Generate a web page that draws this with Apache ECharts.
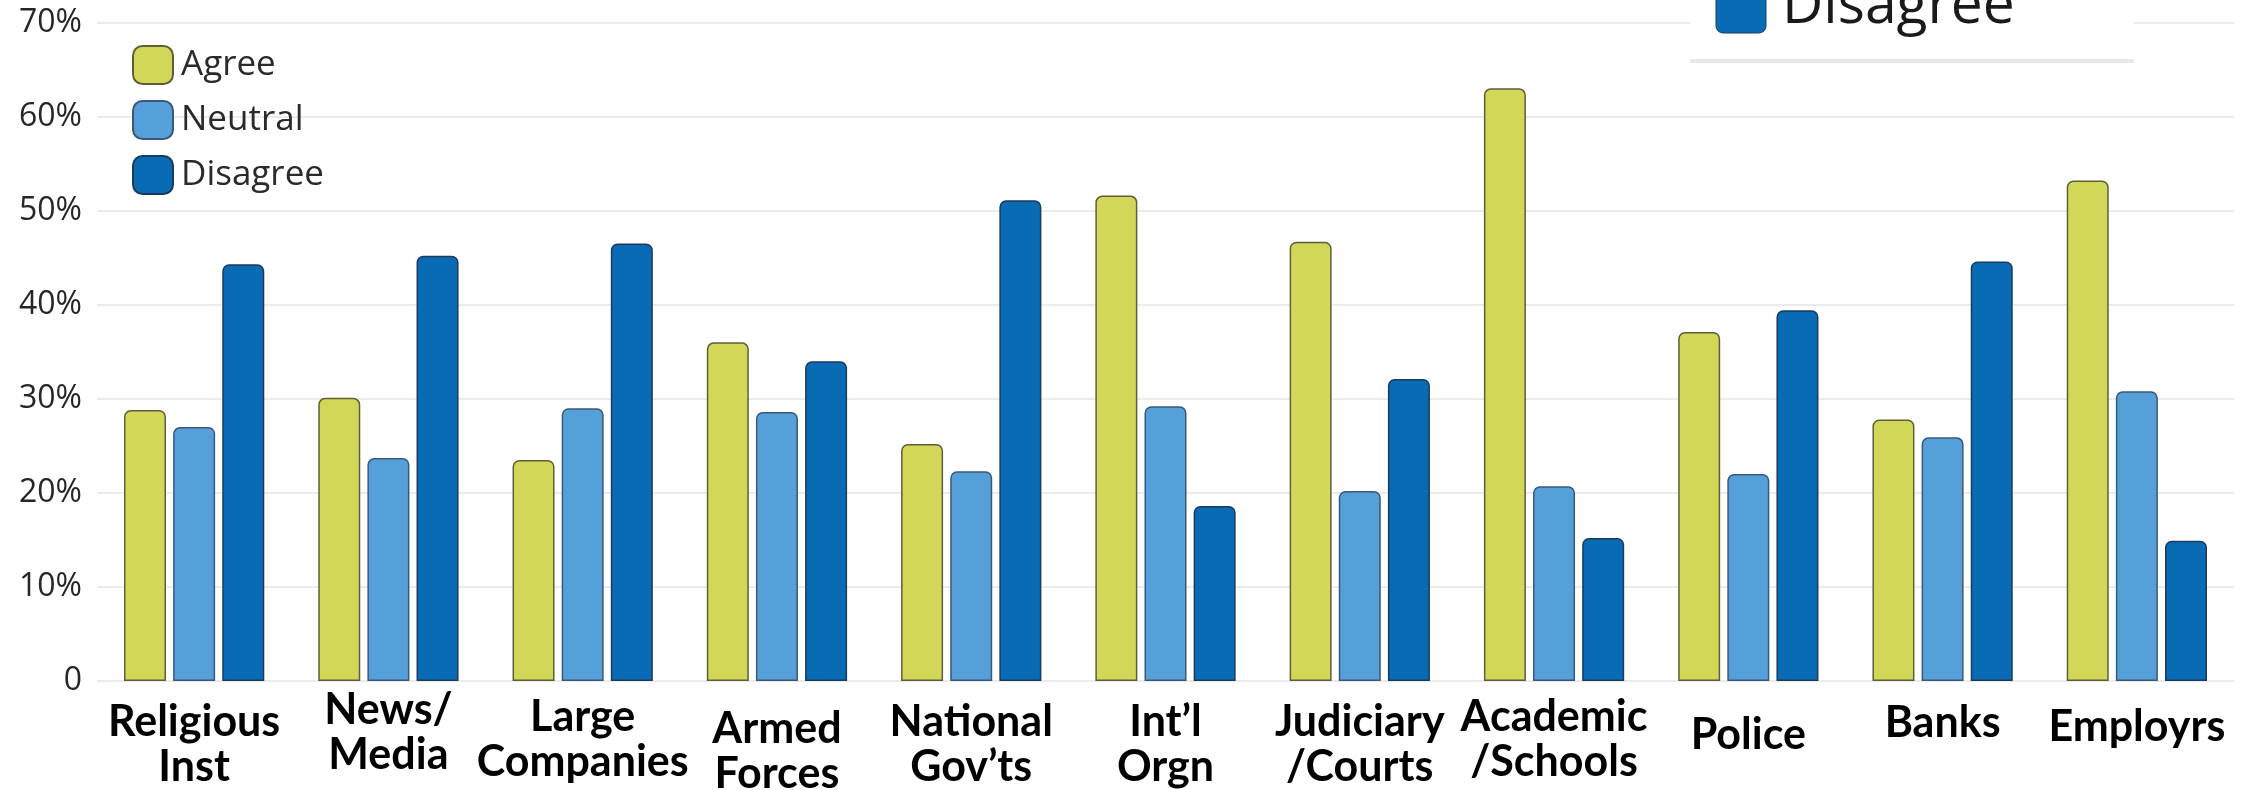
<!DOCTYPE html>
<html>
<head>
<meta charset="utf-8">
<script src="https://cdn.jsdelivr.net/npm/echarts@6/dist/echarts.min.js"></script>
<style>
html,body{margin:0;padding:0;background:#fff;}
#chart{width:2261px;height:790px;}
</style>
</head>
<body>
<div id="chart"></div>
<script>
const categories = ['Religious\nInst','News/\nMedia','Large\nCompanies','Armed\nForces','National\nGov\u2019ts','Int\u2019l\nOrgn','Judiciary\n/Courts','Academic\n/Schools','Police','Banks','Employrs'];
const agree    = [28.8, 30.1, 23.5, 36.0, 25.2, 51.6, 46.7, 63.0, 37.1, 27.8, 53.2];
const neutral  = [27.0, 23.7, 29.0, 28.6, 22.3, 29.2, 20.2, 20.7, 22.0, 25.9, 30.8];
const disagree = [44.3, 45.2, 46.5, 34.0, 51.1, 18.6, 32.1, 15.2, 39.4, 44.6, 14.9];
const seriesNames = ['Agree','Neutral','Disagree'];
const yTicks = [0,10,20,30,40,50,60,70];

// vertical nudges of the hand-placed label boxes (spacer line height; below = shifts text up)
const labelSpacerBelow = {'News/\nMedia':24, 'Large\nCompanies':10, 'Academic\n/Schools':10, 'Police':20, 'Banks':44, 'Employrs':36};
const labelSpacerAbove = {'Armed\nForces':14};

const colors = ['#D3D758','#56A0D9','#0A6BB5'];
const borders = ['#5e5e3c','#3a5878','#1a3a5e'];

const rich = {t:{fontFamily:'Lato, Roboto, sans-serif', fontWeight:'bold', fontSize:43, lineHeight:45, color:'#000'}};
[10,14,20,24,36,44].forEach(h => { rich['sp'+h] = {fontSize:1, lineHeight:h, height:h}; });

const chart = echarts.init(document.getElementById('chart'), null, {renderer:'canvas'});
const mk = (name, data, i) => ({
  name, type:'bar', data,
  barWidth: 42, barGap: '17%',
  itemStyle:{color:colors[i], borderColor:borders[i], borderWidth:1.5, borderRadius:[6,6,0,0]}
});
chart.setOption({
  animation:false,
  backgroundColor:'#ffffff',
  grid:{left:97, right:27, top:22.5, bottom:109, containLabel:false, outerBoundsMode:'none'},
  legend:{
    orient:'vertical', left:132, top:45, padding:0, itemWidth:40, itemHeight:38, itemGap:15,
    icon:'roundRect',
    textStyle:{fontFamily:'Open Sans', fontSize:35, lineHeight:38, color:'#2a2a2a', padding:[0,0,0,3]},
    data:seriesNames
  },
  xAxis:{
    type:'category', data:categories,
    axisLine:{show:false}, axisTick:{show:false},
    axisLabel:{interval:0, verticalAlign:'middle', margin:64, rich,
      formatter:v => {
        let s = v.split('\n').map(l => '{t|' + l + '}').join('\n');
        if (labelSpacerBelow[v]) s = s + '\n{sp' + labelSpacerBelow[v] + '| }';
        if (labelSpacerAbove[v]) s = '{sp' + labelSpacerAbove[v] + '| }\n' + s;
        return s;
      }}
  },
  yAxis:{
    type:'value', min:yTicks[0], max:yTicks[yTicks.length-1], interval:10,
    axisLine:{show:false}, axisTick:{show:false},
    axisLabel:{fontFamily:'Open Sans', fontSize:32, color:'#262626', margin:15,
      formatter:v => v === 0 ? '0' : v + '%'},
    splitLine:{lineStyle:{color:'#ebebef', width:2}}
  },
  series:[mk(seriesNames[0], agree, 0), mk(seriesNames[1], neutral, 1), mk(seriesNames[2], disagree, 2)],
  graphic:[
    {type:'rect', z:100, shape:{x:1690, y:0, width:444, height:60}, style:{fill:'#ffffff'}},
    {type:'rect', z:101, shape:{x:1690, y:59, width:444, height:4}, style:{fill:'#e8e8ec'}},
    {type:'rect', z:101, shape:{x:1716, y:-20, width:50, height:53, r:7}, style:{fill:'#0A6BB5', stroke:'#1d3f62', lineWidth:1}},
    {type:'text', z:101, x:1782, y:35, style:{text:'Disagree', fontFamily:'Open Sans', fontSize:57, fill:'#1a1a1a', verticalAlign:'bottom', align:'left'}}
  ]
});
</script>
</body>
</html>
